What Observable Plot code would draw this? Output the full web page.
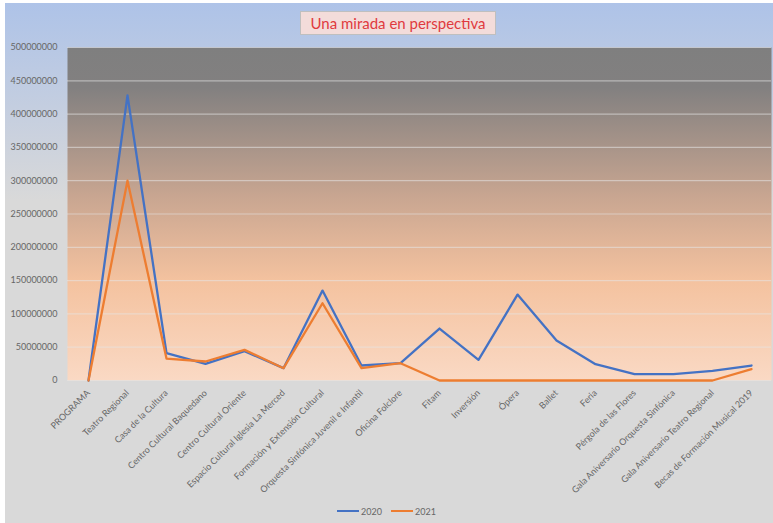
<!DOCTYPE html>
<html>
<head>
<meta charset="utf-8">
<script src="https://cdn.jsdelivr.net/npm/d3@7"></script>
<script src="https://cdn.jsdelivr.net/npm/@observablehq/plot@0.6"></script>
<style>
  body { margin: 0; background: #ffffff; width: 773px; height: 523px; overflow: hidden; position: relative; font-family: Lato, "Open Sans", sans-serif; }
  #bgbox { position: absolute; left: 5px; top: 3px; width: 768px; height: 520px;
    background: linear-gradient(to bottom, #aec3e8 0%, #c4cee0 20%, #d9d9d9 38%, #d9d9d9 100%); }
  #chart { position: absolute; left: 0; top: 0; }
  #title { position: absolute; left: 300px; top: 11px; width: 196px; height: 24px; box-sizing: border-box;
    background: #f3dcda; border: 1px solid #bfbfbf; color: #e03a3e; font-size: 15px; line-height: 22px; text-align: center; }
  #legend { position: absolute; left: 0; top: 501px; width: 773px; height: 20px; display: flex; justify-content: center; align-items: center; gap: 9px; font-size: 9px; color: #666666; }
  .item { display: flex; align-items: center; gap: 2px; }
  .sw { width: 22px; height: 2.5px; display: inline-block; }
</style>
</head>
<body>
<div id="bgbox"></div>
<div id="chart"></div>
<div id="title">Una mirada en perspectiva</div>
<div id="legend"></div>
<script>
const categories = ["PROGRAMA", "Teatro Regional", "Casa de la Cultura", "Centro Cultural Baquedano", "Centro Cultural Oriente", "Espacio Cultural Iglesia La Merced", "Formación y Extensión Cultural", "Orquesta Sinfónica Juvenil e Infantil", "Oficina Folclore", "Fitam", "Inversión", "Ópera", "Ballet", "Feria", "Pérgola de las Flores", "Gala Aniversario Orquesta Sinfónica", "Gala Aniversario Teatro Regional", "Becas de Formación Musical 2019"];
const series = ["2020", "2021"];
const values2020 = [0, 428000000, 41000000, 25000000, 44000000, 18500000, 135000000, 22500000, 26000000, 78000000, 31000000, 129000000, 60000000, 24500000, 9500000, 9500000, 14500000, 22500000];
const values2021 = [0, 300000000, 33000000, 28500000, 46000000, 18500000, 116000000, 18500000, 26000000, 0, 0, 0, 0, 0, 0, 0, 0, 17000000];
const yTicks = [0, 50000000, 100000000, 150000000, 200000000, 250000000, 300000000, 350000000, 400000000, 450000000, 500000000];
const colors = ["#4472c4", "#ed7d31"];

const data = [];
categories.forEach((c, i) => {
  data.push({cat: c, serie: series[0], value: values2020[i]});
  data.push({cat: c, serie: series[1], value: values2021[i]});
});

const plot = Plot.plot({
  width: 773,
  height: 495,
  marginLeft: 67,
  marginRight: 2,
  marginTop: 47,
  marginBottom: 115,
  style: { background: "transparent", fontFamily: "Lato, 'Open Sans', sans-serif", fontSize: "9px", color: "#666666", overflow: "visible" },
  x: { domain: categories, label: null, padding: 0.5 },
  y: { domain: [0, 500000000], label: null },
  color: { domain: series, range: colors },
  marks: [
    Plot.frame({ fill: "url(#plotbg)", stroke: null }),
    Plot.gridY(yTicks, { stroke: "#e6e6e6", strokeOpacity: 0.55, strokeWidth: 1.2 }),
    Plot.axisY({ ticks: yTicks, tickFormat: d => String(d), tickSize: 0, tickPadding: 10, label: null, fill: "#666666" }),
    Plot.axisX({ tickRotate: -45, tickSize: 0, tickPadding: 11, label: null, fill: "#666666" }),
    Plot.line(data, { x: "cat", y: "value", stroke: "serie", strokeWidth: 2.3, z: "serie" })
  ]
});

plot.insertAdjacentHTML("afterbegin", `<defs><linearGradient id="plotbg" x1="0" y1="0" x2="0" y2="1">
  <stop offset="0" stop-color="#7f7f7f"/>
  <stop offset="0.12" stop-color="#828080"/>
  <stop offset="0.45" stop-color="#c9a691"/>
  <stop offset="0.70" stop-color="#f4c29f"/>
  <stop offset="1" stop-color="#fad9c4"/>
</linearGradient></defs>`);
document.getElementById("chart").appendChild(plot);

const legend = document.getElementById("legend");
series.forEach((s, i) => {
  const it = document.createElement("div");
  it.className = "item";
  it.innerHTML = `<span class="sw" style="background:${colors[i]}"></span><span>${s}</span>`;
  legend.appendChild(it);
});
</script>
</body>
</html>
